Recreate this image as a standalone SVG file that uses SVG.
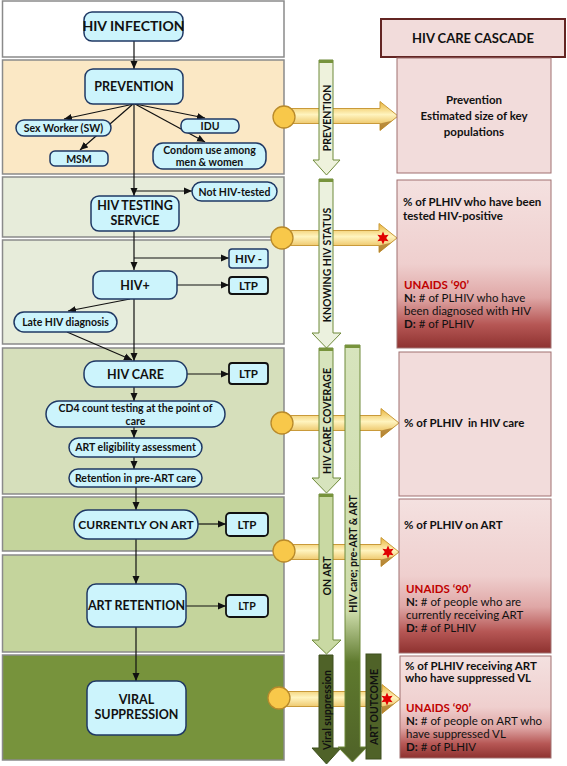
<svg xmlns="http://www.w3.org/2000/svg" width="567" height="766" viewBox="0 0 567 766">
<style>
text{font-family:Lato,"Liberation Sans",sans-serif;fill:#111}
.b{font-weight:bold}
.panel{stroke:#8a8a8a;stroke-width:1.5}
.node{fill:#ccf4fc;stroke:#1f3864;stroke-width:1.5}
.ltp{fill:#ccf4fc;stroke:#111;stroke-width:1.8}
.nl{font-weight:bold;font-size:12.5px;text-anchor:middle}
.ns{font-weight:bold;font-size:10.5px;text-anchor:middle}
.conn line{stroke:#111;stroke-width:1.2;marker-end:url(#ah)}
.box{stroke:#a07070;stroke-width:1}
.rt{font-size:11.5px}
.red{fill:#c00000;font-weight:bold}
.va{stroke:#6f8a3a;stroke-width:1}
.vt{font-weight:bold;font-size:10.5px;text-anchor:middle;dominant-baseline:central}
.circ{fill:#f8c84a;stroke:#b98a2a;stroke-width:1.3}
</style>
<defs>
<marker id="ah" viewBox="0 0 8 8" refX="8" refY="4" markerWidth="8" markerHeight="8" markerUnits="userSpaceOnUse" orient="auto"><path d="M0,0.5 L8,4 L0,7.5z" fill="#111"/></marker>
<linearGradient id="yg" x1="0" y1="0" x2="0" y2="1">
<stop offset="0" stop-color="#e9b43a"/><stop offset="0.45" stop-color="#fff4bf"/><stop offset="1" stop-color="#e2a932"/>
</linearGradient>
<linearGradient id="rg" x1="0" y1="0" x2="0" y2="1">
<stop offset="0" stop-color="#f4e1e0"/><stop offset="0.5" stop-color="#efcfce"/><stop offset="0.7" stop-color="#dfa7a6"/><stop offset="0.86" stop-color="#b65755"/><stop offset="1" stop-color="#8e3230"/>
</linearGradient>
<linearGradient id="lg" x1="0" y1="0" x2="0" y2="1">
<stop offset="0" stop-color="#d7e4bd"/><stop offset="0.64" stop-color="#cddcaa"/><stop offset="0.76" stop-color="#5f7a2e"/><stop offset="1" stop-color="#4f6228"/>
</linearGradient>
<g id="yarrow">
<path d="M-118,-7.5 H-18 V-14.5 L0,0 L-18,14.5 V7.5 H-118 Z" fill="url(#yg)" stroke="#c99a3a" stroke-width="1"/>
<path d="M-18,7.5 L-6,4.8 L0,0 L-18,14.5 Z" fill="#a8782e" opacity="0.75"/>
</g>
<polygon id="star" points="0,-6.5 1.6,-2.8 5.6,-3.2 3.2,0 5.6,3.2 1.6,2.8 0,6.5 -1.6,2.8 -5.6,3.2 -3.2,0 -5.6,-3.2 -1.6,-2.8" fill="#e00000"/>
</defs>

<!-- panels -->
<g id="panels">
<rect class="panel" x="2.5" y="1" width="281.5" height="56" fill="#ffffff"/>
<rect class="panel" x="2.5" y="60" width="281.5" height="114" fill="#fbe8c5"/>
<rect class="panel" x="2.5" y="177" width="281.5" height="60" fill="#e7ecda"/>
<rect class="panel" x="2.5" y="240" width="281.5" height="104" fill="#e7ecda"/>
<rect class="panel" x="2.5" y="348" width="281.5" height="146" fill="#d6dfbb"/>
<rect class="panel" x="2.5" y="497" width="281.5" height="54" fill="#c4d49c"/>
<rect class="panel" x="2.5" y="555" width="281.5" height="97" fill="#c4d49c"/>
<rect class="panel" x="2.5" y="655" width="281.5" height="105" fill="#77933c" stroke="#5a5a5a"/>
</g>

<!-- yellow horizontal arrows -->
<g id="flow-arrows">
<use href="#yarrow" transform="translate(398,116)"/>
<use href="#yarrow" transform="translate(397,238)"/>
<use href="#yarrow" transform="translate(399,423)"/>
<use href="#yarrow" transform="translate(399,552)"/>
<use href="#yarrow" transform="translate(400,699)"/>
</g>

<!-- vertical indicator arrows -->
<g id="v-prevention">
<polygon class="va" points="319,60 333,60 333,160 340,160 326.5,175 313,160 319,160" fill="#eef2dc"/>
<rect x="319" y="60" width="14" height="3" fill="#77933c"/>
<text class="vt" transform="translate(326.5,118) rotate(-90)">PREVENTION</text>
</g>
<g id="v-knowing">
<polygon class="va" points="319,179 333,179 333,333 341,333 326.5,348 312,333 319,333" fill="#ebf1de"/>
<rect x="319" y="179" width="14" height="3" fill="#77933c"/>
<text class="vt" transform="translate(326.5,265) rotate(-90)">KNOWING HIV STATUS</text>
</g>
<g id="v-care">
<polygon class="va" points="319,348 333,348 333,478 341,478 326.5,493 312,478 319,478" fill="#d7e4bd"/>
<rect x="319" y="348" width="14" height="3" fill="#77933c"/>
<text class="vt" transform="translate(326.5,421) rotate(-90)">HIV CARE COVERAGE</text>
</g>
<g id="v-onart">
<polygon class="va" points="319,494 333,494 333,640 341,640 326.5,654 312,640 319,640" fill="#c9d9a3"/>
<rect x="319" y="494" width="14" height="3" fill="#77933c"/>
<text class="vt" transform="translate(326.5,576) rotate(-90)">ON ART</text>
</g>
<g id="v-viral">
<polygon points="319,655 333,655 333,748 341,748 326.5,764 312,748 319,748" fill="#4f6228" stroke="#3e4f1e"/>
<text class="vt" transform="translate(326.5,710) rotate(-90)">Viral suppression</text>
</g>
<g id="v-longcare">
<polygon points="345,345 360,345 360,747 367,747 352.5,762 338,747 345,747" fill="url(#lg)" stroke="#6f8a3a"/>
<rect x="345" y="345" width="15" height="3" fill="#77933c"/>
<text class="vt" transform="translate(352.5,554) rotate(-90)">HIV care; pre-ART &amp; ART</text>
</g>
<g id="art-outcome">
<rect x="366" y="654" width="15" height="105" fill="#4f6228" stroke="#3e4f1e"/>
<text class="vt" transform="translate(373.5,707) rotate(-90)">ART OUTCOME</text>
</g>

<!-- circles and stars -->
<g id="markers">
<circle class="circ" cx="284" cy="117" r="11"/>
<circle class="circ" cx="282" cy="238" r="11"/>
<circle class="circ" cx="282" cy="423" r="11"/>
<circle class="circ" cx="284" cy="551" r="11"/>
<circle class="circ" cx="279" cy="698" r="11"/>
<use href="#star" x="383" y="238"/>
<use href="#star" x="388" y="552"/>
<use href="#star" x="387" y="699"/>
</g>

<!-- connectors -->
<g id="connectors" class="conn">
<line x1="134" y1="41" x2="134" y2="69"/>
<line x1="134" y1="104" x2="64" y2="119"/>
<line x1="133" y1="104" x2="80" y2="150"/>
<line x1="135" y1="104" x2="205" y2="118"/>
<line x1="135" y1="104" x2="205" y2="142"/>
<line x1="134" y1="104" x2="134" y2="196"/>
<line x1="134" y1="191" x2="192" y2="191"/>
<line x1="134" y1="231" x2="134" y2="270"/>
<line x1="134" y1="258" x2="229" y2="258"/>
<line x1="177" y1="285" x2="229" y2="285"/>
<line x1="130" y1="299" x2="68" y2="311"/>
<line x1="134" y1="299" x2="134" y2="361"/>
<line x1="67" y1="332" x2="132" y2="360"/>
<line x1="187" y1="374" x2="229" y2="374"/>
<line x1="134" y1="387" x2="134" y2="401"/>
<line x1="134" y1="427" x2="134" y2="438"/>
<line x1="134" y1="457" x2="134" y2="469"/>
<line x1="136" y1="487" x2="136" y2="510"/>
<line x1="198" y1="524" x2="226" y2="524"/>
<line x1="136" y1="539" x2="136" y2="584"/>
<line x1="186" y1="606" x2="226" y2="606"/>
<line x1="136" y1="627" x2="136" y2="681"/>
</g>

<!-- nodes -->
<g id="n-infection"><rect class="node" x="84" y="12" width="99" height="29" rx="8"/><text class="nl" x="133.5" y="31" style="font-size:14px">HIV INFECTION</text></g>
<g id="n-prevention"><rect class="node" x="85" y="69" width="98" height="35" rx="8"/><text class="nl" x="134" y="91">PREVENTION</text></g>
<g id="n-sw"><rect class="node" x="16" y="120" width="95" height="16" rx="8"/><text class="ns" x="63.5" y="132">Sex Worker (SW)</text></g>
<g id="n-msm"><rect class="node" x="50" y="151" width="58" height="15" rx="5"/><text class="ns" x="79" y="162.5">MSM</text></g>
<g id="n-idu"><rect class="node" x="181" y="119" width="58" height="14" rx="6"/><text class="ns" x="210" y="130">IDU</text></g>
<g id="n-condom"><rect class="node" x="153" y="143" width="113" height="26" rx="10"/><text class="ns" x="209.5" y="153.5">Condom use among</text><text class="ns" x="209.5" y="166">men &amp; women</text></g>
<g id="n-testing"><rect class="node" x="91" y="196" width="88" height="35" rx="8"/><text class="nl" x="135" y="210">HIV TESTING</text><text class="nl" x="135" y="225">SERViCE</text></g>
<g id="n-nottested"><rect class="node" x="192" y="182" width="85" height="19" rx="9.5"/><text class="ns" x="234.5" y="195.5">Not HIV-tested</text></g>
<g id="n-hivneg"><rect class="node" x="229" y="249" width="39" height="19" rx="3"/><text class="ns" x="248.5" y="262.5" style="font-size:11.5px">HIV -</text></g>
<g id="n-hivpos"><rect class="node" x="93" y="271" width="84" height="28" rx="8"/><text class="nl" x="135" y="289.5">HIV+</text></g>
<g id="n-ltp1"><rect class="ltp" x="229" y="277" width="39" height="17" rx="3"/><text class="ns" x="248.5" y="289.5" style="font-size:11.5px">LTP</text></g>
<g id="n-late"><rect class="node" x="14" y="312" width="103" height="20" rx="10"/><text class="ns" x="65.5" y="325.5">Late HIV diagnosis</text></g>
<g id="n-care"><rect class="node" x="84" y="361" width="103" height="26" rx="12"/><text class="nl" x="135.5" y="378.5">HIV CARE</text></g>
<g id="n-ltp2"><rect class="ltp" x="229" y="363" width="39" height="21" rx="3"/><text class="ns" x="248.5" y="377.5" style="font-size:11.5px">LTP</text></g>
<g id="n-cd4"><rect class="node" x="46" y="401" width="179" height="26" rx="13"/><text class="ns" x="135.5" y="412">CD4 count testing at the point of</text><text class="ns" x="135.5" y="424.5">care</text></g>
<g id="n-elig"><rect class="node" x="69" y="438" width="133" height="19" rx="9.5"/><text class="ns" x="135.5" y="451">ART eligibility assessment</text></g>
<g id="n-retention"><rect class="node" x="69" y="469" width="133" height="18" rx="9"/><text class="ns" x="135.5" y="481.5">Retention in pre-ART care</text></g>
<g id="n-onart"><rect class="node" x="74" y="510" width="124" height="29" rx="14"/><text class="nl" x="136" y="528.5" style="font-size:12px">CURRENTLY ON ART</text></g>
<g id="n-ltp3"><rect class="ltp" x="226" y="513" width="42" height="23" rx="4" stroke="#1f2f3f"/><text class="ns" x="247" y="528.5" style="font-size:11.5px">LTP</text></g>
<g id="n-artret"><rect class="node" x="87" y="584" width="99" height="43" rx="9"/><text class="nl" x="136.5" y="610">ART RETENTION</text></g>
<g id="n-ltp4"><rect class="ltp" x="226" y="595" width="42" height="22" rx="4" stroke="#1f2f3f"/><text class="ns" x="247" y="610">LTP</text></g>
<g id="n-viral"><rect class="node" x="87" y="681" width="99" height="54" rx="9"/><text class="nl" x="136.5" y="704">VIRAL</text><text class="nl" x="136.5" y="719">SUPPRESSION</text></g>

<!-- cascade column -->
<g id="cascade-header"><rect x="381" y="19" width="184" height="38" fill="#f2dcdb" stroke="#632523" stroke-width="2"/><text class="b" x="473" y="43" text-anchor="middle" style="font-size:13px">HIV CARE CASCADE</text></g>
<g id="c-prevention"><rect class="box" x="397" y="58" width="154" height="115" fill="#f2dcdb"/>
<text class="b rt" x="474" y="104" text-anchor="middle">Prevention</text>
<text class="b rt" x="474" y="120" text-anchor="middle">Estimated size of key</text>
<text class="b rt" x="474" y="136" text-anchor="middle">populations</text></g>
<g id="c-knowing"><rect class="box" x="397" y="180" width="154" height="168" fill="url(#rg)"/>
<text class="b rt" x="403" y="206">% of PLHIV who have been</text>
<text class="b rt" x="403" y="220">tested HIV-positive</text>
<text class="rt red" x="404" y="289">UNAIDS ‘90’</text>
<text class="rt" x="404" y="302"><tspan class="b">N:</tspan> # of PLHIV who have</text>
<text class="rt" x="404" y="315">been diagnosed with HIV</text>
<text class="rt" x="404" y="328"><tspan class="b">D:</tspan> # of PLHIV</text></g>
<g id="c-care"><rect class="box" x="399" y="352" width="152" height="144" fill="#f2dcdb"/>
<text class="b rt" x="404" y="427" xml:space="preserve">% of PLHIV  in HIV care</text></g>
<g id="c-art"><rect class="box" x="399" y="499" width="152" height="154" fill="url(#rg)"/>
<text class="b rt" x="404" y="529">% of PLHIV on ART</text>
<text class="rt red" x="406" y="593">UNAIDS ‘90’</text>
<text class="rt" x="406" y="606"><tspan class="b">N:</tspan> # of people who are</text>
<text class="rt" x="406" y="619">currently receiving ART</text>
<text class="rt" x="406" y="632"><tspan class="b">D:</tspan> # of PLHIV</text></g>
<g id="c-viral"><rect class="box" x="400" y="656" width="151" height="102" fill="url(#rg)"/>
<text class="b rt" x="405" y="670">% of PLHIV receiving ART</text>
<text class="b rt" x="405" y="682">who have suppressed VL</text>
<text class="rt red" x="406" y="712">UNAIDS ‘90’</text>
<text class="rt" x="406" y="725"><tspan class="b">N:</tspan> # of people on ART who</text>
<text class="rt" x="406" y="738">have suppressed VL</text>
<text class="rt" x="406" y="751"><tspan class="b">D:</tspan> # of PLHIV</text></g>
</svg>
